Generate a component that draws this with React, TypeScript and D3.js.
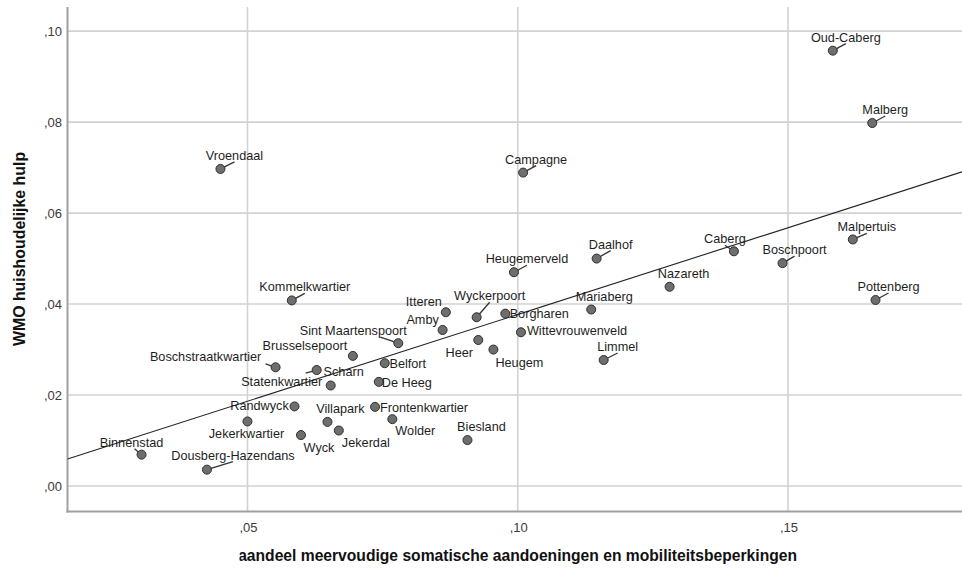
import React from 'react';
import * as d3 from 'd3';

const names = [
  'Binnenstad', 'Dousberg-Hazendans', 'Jekerkwartier', 'Randwyck', 'Wyck', 'Boschstraatkwartier',
  'Kommelkwartier', 'Vroendaal', 'Scharn', 'Statenkwartier', 'Brusselsepoort', 'Sint Maartenspoort',
  'Belfort', 'De Heeg', 'Frontenkwartier', 'Wolder', 'Villapark', 'Jekerdal', 'Biesland', 'Itteren',
  'Amby', 'Wyckerpoort', 'Borgharen', 'Wittevrouwenveld', 'Heer', 'Heugem', 'Heugemerveld', 'Campagne',
  'Daalhof', 'Nazareth', 'Mariaberg', 'Limmel', 'Caberg', 'Boschpoort', 'Malpertuis', 'Pottenberg',
  'Oud-Caberg', 'Malberg',
];
const aandeel = [
  0.0304, 0.0425, 0.0500, 0.0587, 0.0599, 0.0552,
  0.0582, 0.0450, 0.0628, 0.0654, 0.0695, 0.0779,
  0.0754, 0.0743, 0.0736, 0.0768, 0.0648, 0.0669, 0.0907, 0.0867,
  0.0861, 0.0924, 0.0977, 0.1006, 0.0927, 0.0955, 0.0993, 0.1010,
  0.1146, 0.1281, 0.1136, 0.1159, 0.1400, 0.1490, 0.1620, 0.1662,
  0.1583, 0.1656,
];
const wmo = [
  0.0069, 0.0036, 0.0142, 0.0175, 0.0112, 0.0261,
  0.0408, 0.0697, 0.0255, 0.0221, 0.0286, 0.0314,
  0.0270, 0.0229, 0.0174, 0.0147, 0.0141, 0.0122, 0.0101, 0.0382,
  0.0343, 0.0371, 0.0379, 0.0338, 0.0321, 0.0300, 0.0470, 0.0689,
  0.0500, 0.0438, 0.0388, 0.0277, 0.0516, 0.0490, 0.0542, 0.0409,
  0.0957, 0.0798,
];
const xTicks = [0.05, 0.1, 0.15];
const yTicks = [0, 0.02, 0.04, 0.06, 0.08, 0.1];
const xDomain = [0.0167, 0.1822];
const yDomain = [-0.0056, 0.1053];
const fitIntercept = -0.00043;
const fitSlope = 0.3814;
const xTitle = 'aandeel meervoudige somatische aandoeningen en mobiliteitsbeperkingen';
const yTitle = 'WMO huishoudelijke hulp';

// label placement (pixel offset of label centre/baseline from its point)
const labelOffset: Record<string, [number, number]> = {
  'Binnenstad': [-10, -8], 'Dousberg-Hazendans': [26, -10], 'Jekerkwartier': [-1, 17],
  'Randwyck': [-35, 4], 'Wyck': [18, 17], 'Boschstraatkwartier': [-70, -6],
  'Kommelkwartier': [13, -9], 'Vroendaal': [14, -9], 'Scharn': [27, 6],
  'Statenkwartier': [-49, 1], 'Brusselsepoort': [-48, -6], 'Sint Maartenspoort': [-45, -8],
  'Belfort': [23, 5], 'De Heeg': [28, 5], 'Frontenkwartier': [49, 5], 'Wolder': [23, 16],
  'Villapark': [13, -9], 'Jekerdal': [27, 16], 'Biesland': [14, -9], 'Itteren': [-22, -6],
  'Amby': [-20, -6], 'Wyckerpoort': [13, -17], 'Borgharen': [34, 4], 'Wittevrouwenveld': [56, 3],
  'Heer': [-19, 17], 'Heugem': [26, 17], 'Heugemerveld': [13, -9], 'Campagne': [13, -9],
  'Daalhof': [14, -10], 'Nazareth': [14, -9], 'Mariaberg': [13, -9], 'Limmel': [14, -9],
  'Caberg': [-9, -8], 'Boschpoort': [12, -9], 'Malpertuis': [14, -8], 'Pottenberg': [13, -9],
  'Oud-Caberg': [13, -9], 'Malberg': [13, -9],
};
const leaderNames = new Set([
  'Vroendaal', 'Kommelkwartier', 'Boschstraatkwartier', 'Dousberg-Hazendans', 'Binnenstad',
  'Sint Maartenspoort', 'Wyckerpoort', 'Heugemerveld', 'Campagne', 'Daalhof', 'Limmel', 'Caberg',
  'Boschpoort', 'Malpertuis', 'Pottenberg', 'Oud-Caberg', 'Malberg', 'Scharn',
]);
const leaderOverride: Record<string, [number, number]> = {
  'Scharn': [-11, 3],
  'Boschstraatkwartier': [-10, -3.5],
  'Binnenstad': [-7, -6],
  'Sint Maartenspoort': [-18, -6],
};

const FONT = '"Liberation Sans", Arial, sans-serif';
const LABEL_SIZE = 12.7;

let ctx: CanvasRenderingContext2D | null = null;
function textWidth(t: string, font: string) {
  if (!ctx) ctx = document.createElement('canvas').getContext('2d');
  if (!ctx) return t.length * 6.5;
  ctx.font = font;
  return ctx.measureText(t).width;
}

const fmt = (v: number) => d3.format('.2f')(v).replace(/^0/, '').replace('.', ',');

export default function App() {
  const W = 962, H = 568;
  const left = 67.5, right = 962, top = 7, bottom = 511.5;
  const x = d3.scaleLinear().domain(xDomain).range([left, right]);
  const y = d3.scaleLinear().domain(yDomain).range([bottom, top]);

  const pts = names.map((n, i) => {
    const px = x(aandeel[i]);
    const py = y(wmo[i]);
    const [dx, dy] = labelOffset[n] || [13, -9];
    const cx = px + dx;
    const base = py + dy;
    const w = textWidth(n, `${LABEL_SIZE}px ${FONT}`);
    let leader: [number, number] | null = null;
    if (leaderNames.has(n)) {
      if (leaderOverride[n]) {
        leader = [px + leaderOverride[n][0], py + leaderOverride[n][1]];
      } else {
        const l = cx - w / 2 - 1, r = cx + w / 2 + 1, t = base - 10, b = base + 2;
        const tx = cx, ty = base + 2;
        const sx = tx - px, sy = ty - py;
        const slab = (p: number, s: number, lo: number, hi: number) => {
          if (Math.abs(s) < 1e-9) return p >= lo && p <= hi ? -Infinity : Infinity;
          return Math.min((lo - p) / s, (hi - p) / s);
        };
        let te = Math.max(slab(px, sx, l, r), slab(py, sy, t, b), 0);
        if (!isFinite(te) || te > 1) te = 1;
        leader = [px + sx * te, py + sy * te];
      }
    }
    return { n, px, py, cx, base, leader };
  });

  const fitLine = d3.line<number>()
    .x((d) => x(d))
    .y((d) => y(fitIntercept + fitSlope * d));

  return (
    <svg width={W} height={H} style={{ position: 'absolute', left: 0, top: 0, background: '#fff' }}>
      <defs>
        <clipPath id="plotclip">
          <rect x={left} y={top} width={right - left} height={bottom - top} />
        </clipPath>
        <clipPath id="xtclip">
          <rect x={239.5} y={530} width={700} height={40} />
        </clipPath>
      </defs>
      <rect x={0} y={0} width={W} height={H} fill="#fff" />
      {/* grid */}
      {yTicks.map((t) => (
        <line key={'gy' + t} x1={left} x2={right} y1={y(t)} y2={y(t)} stroke="#d2d2d2" strokeWidth={1.6} />
      ))}
      {xTicks.map((t) => (
        <line key={'gx' + t} x1={x(t)} x2={x(t)} y1={top} y2={bottom} stroke="#d2d2d2" strokeWidth={1.6} />
      ))}
      {/* axes */}
      <line x1={left} x2={left} y1={top} y2={bottom + 1} stroke="#a0a0a0" strokeWidth={2} />
      <line x1={left - 1} x2={right} y1={bottom} y2={bottom} stroke="#a0a0a0" strokeWidth={2} />
      {/* tick labels */}
      {yTicks.map((t) => (
        <text key={'ty' + t} x={62} y={y(t) + 4.5} textAnchor="end" fontFamily={FONT} fontSize={13} fill="#3a3a3a">
          {fmt(t)}
        </text>
      ))}
      {xTicks.map((t) => (
        <text key={'tx' + t} x={x(t) + 1} y={531.5} textAnchor="middle" fontFamily={FONT} fontSize={13} fill="#3a3a3a">
          {fmt(t)}
        </text>
      ))}
      {/* fit line */}
      <g clipPath="url(#plotclip)">
        <path d={fitLine(xDomain) || ''} fill="none" stroke="#222" strokeWidth={1.1} />
      </g>
      {/* leaders */}
      {pts.map((p) =>
        p.leader ? (
          <line key={'ld' + p.n} x1={p.px} y1={p.py} x2={p.leader[0]} y2={p.leader[1]} stroke="#333" strokeWidth={1.3} />
        ) : null
      )}
      {/* points */}
      {pts.map((p) => (
        <circle key={'pt' + p.n} cx={p.px} cy={p.py} r={4.5} fill="#6e6e6e" stroke="#2e2e2e" strokeWidth={1} />
      ))}
      {/* labels */}
      {pts.map((p) => (
        <text key={'lb' + p.n} x={p.cx} y={p.base} textAnchor="middle" fontFamily={FONT} fontSize={LABEL_SIZE} fill="#1e1e1e">
          {p.n}
        </text>
      ))}
      {/* titles */}
      <g clipPath="url(#xtclip)">
        <text x={797} y={561} textAnchor="end" fontFamily={FONT} fontSize={15.65} fontWeight="bold" fill="#111">
          {xTitle}
        </text>
      </g>
      <text
        transform={`translate(25,249) rotate(-90)`}
        textAnchor="middle"
        fontFamily={FONT}
        fontSize={15.9}
        fontWeight="bold"
        fill="#111"
      >
        {yTitle}
      </text>
    </svg>
  );
}
